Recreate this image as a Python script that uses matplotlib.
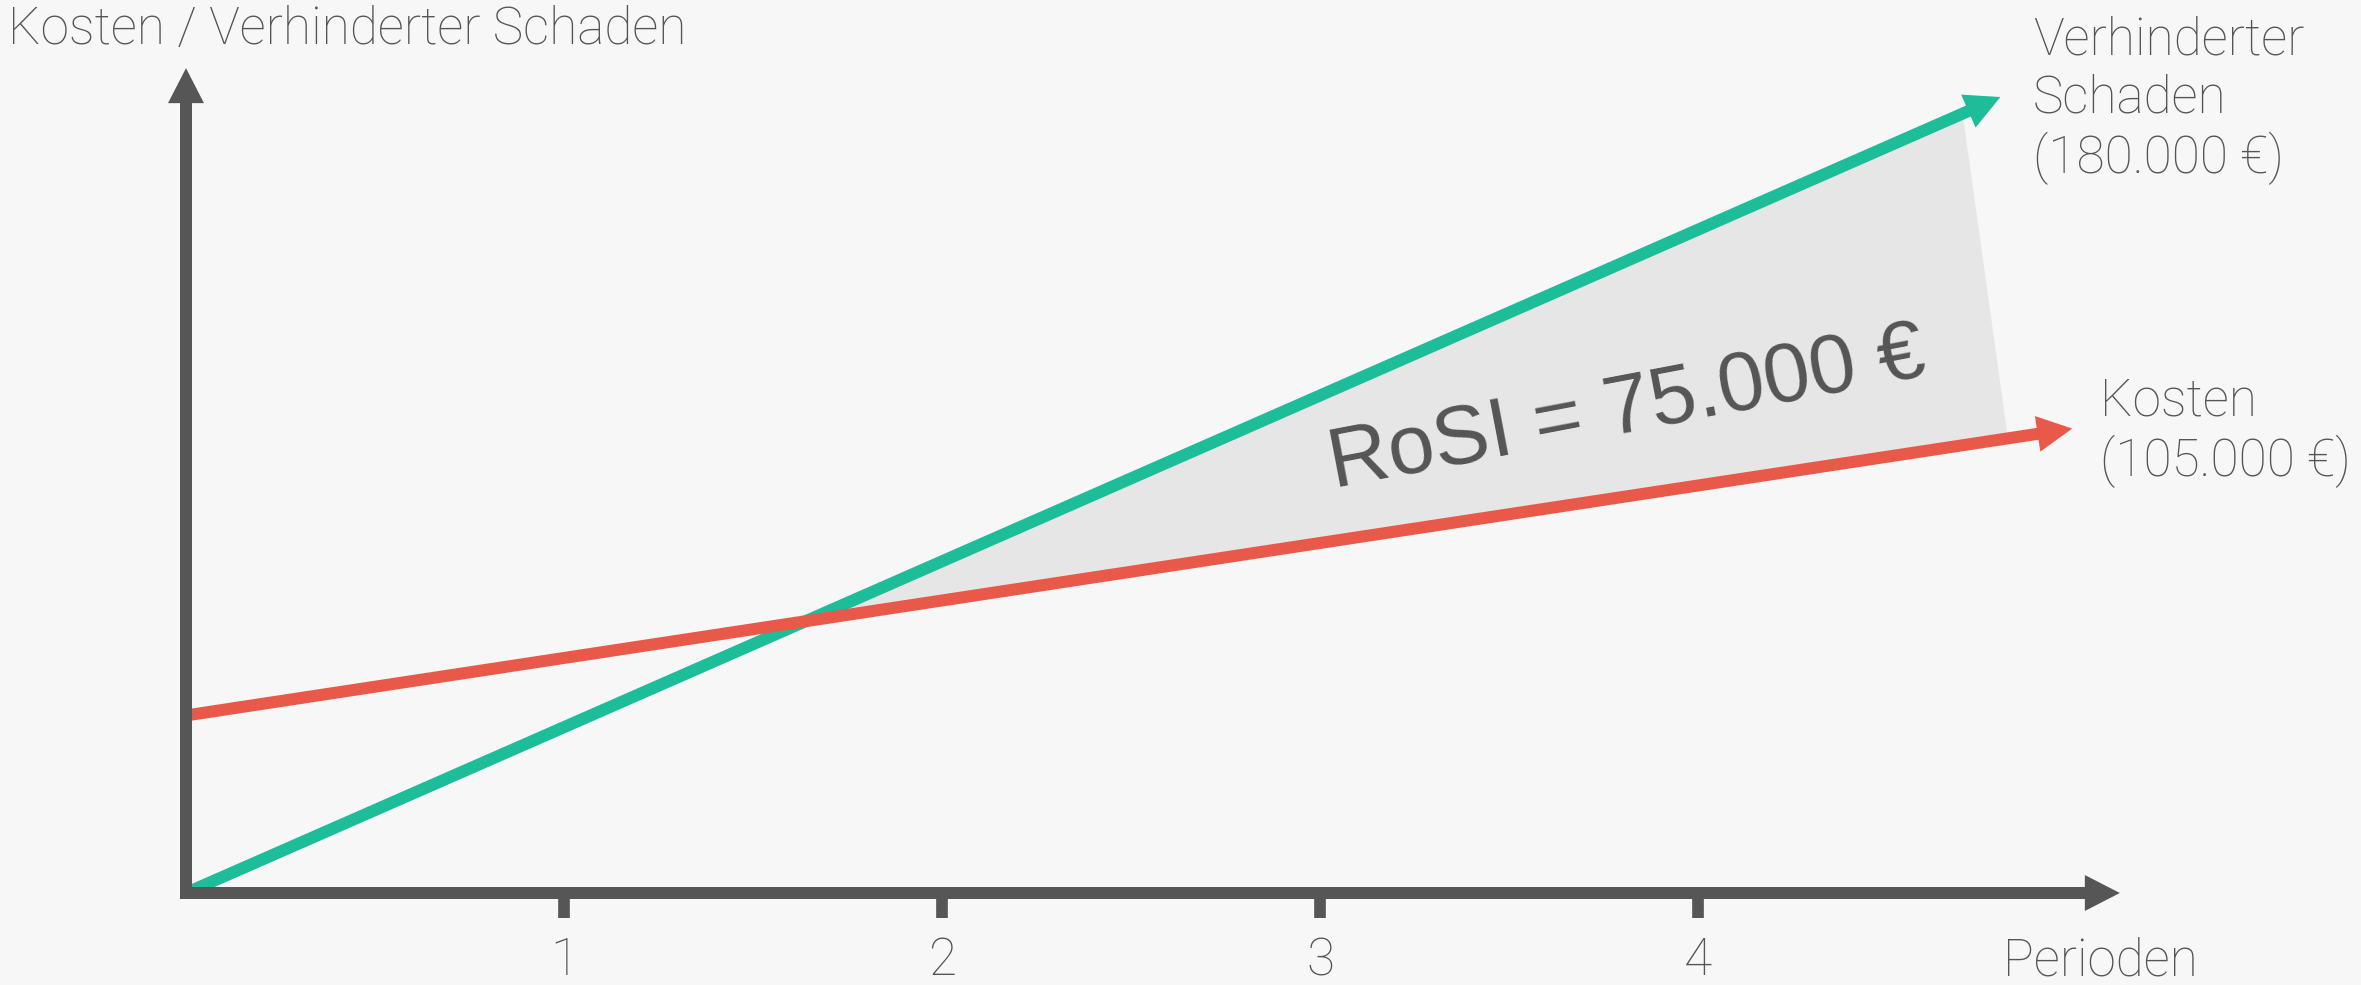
import numpy as np
import matplotlib.pyplot as plt
from matplotlib.patches import FancyArrowPatch, ArrowStyle

# x: Perioden, y: Tsd. Euro
perioden_ticks = [1, 2, 3, 4]
schaden_perioden = [0.0, 4.70]
schaden_werte = [0.0, 180.0]
kosten_perioden = [0.0, 4.82]
kosten_werte = [41.0, 105.0]

# Pfeilspitzen liegen etwas hinter dem Endwert
schaden_pfeil_ende = 4.80
kosten_pfeil_ende = 4.99
achse_x_ende = 5.116
achse_y_ende = 190.5

GRAU = '#565656'
TEXT = '#555555'
GRUEN = '#1dbd9a'
ROT = '#e8594a'
FLAECHE = '#e6e6e6'
HINTERGRUND = '#f7f7f7'

W, H, DPI = 2361, 985, 100
PX_X = 378.0      # Pixel pro Periode
PX_Y = 4.33       # Pixel pro Tsd. Euro
X0, Y0 = 186, 893  # Ursprung in Pixeln (von oben gezaehlt)

LEICHT = dict(family=['Roboto', 'DejaVu Sans'], weight='light', color=TEXT)
GROESSE = 37


def gerade(xs, ys, x):
    m = (ys[1] - ys[0]) / (xs[1] - xs[0])
    return ys[0] + m * (x - xs[0])


def euro(wert_tsd):
    return f"{int(round(wert_tsd * 1000)):,}".replace(',', '.') + ' €'


def pfeil(ax, a, b, farbe, z):
    stil = ArrowStyle.Simple(head_length=25.2, head_width=25.9, tail_width=8.64)
    p = FancyArrowPatch(a, b, arrowstyle=stil, mutation_scale=1, color=farbe,
                        lw=0, shrinkA=0, shrinkB=0, zorder=z)
    ax.add_patch(p)


def px(x, y):
    return x / W, 1 - y / H


fig = plt.figure(figsize=(W / DPI, H / DPI), dpi=DPI, facecolor=HINTERGRUND)
ax = fig.add_axes([0, 0, 1, 1])
ax.set_xlim(-X0 / PX_X, (W - X0) / PX_X)
ax.set_ylim(-(H - Y0) / PX_Y, Y0 / PX_Y)
ax.patch.set_visible(False)
for name, s in ax.spines.items():
    s.set_visible(False)
ax.spines['bottom'].set_position(('data', 0))

# Schnittpunkt der beiden Geraden
m_s = (schaden_werte[1] - schaden_werte[0]) / (schaden_perioden[1] - schaden_perioden[0])
m_k = (kosten_werte[1] - kosten_werte[0]) / (kosten_perioden[1] - kosten_perioden[0])
x_schnitt = (kosten_werte[0] - schaden_werte[0]) / (m_s - m_k)
y_schnitt = gerade(schaden_perioden, schaden_werte, x_schnitt)

ax.fill([x_schnitt, schaden_perioden[1], kosten_perioden[1]],
        [y_schnitt, schaden_werte[1], kosten_werte[1]],
        color=FLAECHE, lw=0, zorder=1)

pfeil(ax, (schaden_perioden[0], schaden_werte[0]),
      (schaden_pfeil_ende, gerade(schaden_perioden, schaden_werte, schaden_pfeil_ende)),
      GRUEN, 2)
pfeil(ax, (kosten_perioden[0], kosten_werte[0]),
      (kosten_pfeil_ende, gerade(kosten_perioden, kosten_werte, kosten_pfeil_ende)),
      ROT, 2.1)

# Achsen
pfeil(ax, (-6 / PX_X, 0), (achse_x_ende, 0), GRAU, 4)
pfeil(ax, (0, -6 / PX_Y), (0, achse_y_ende), GRAU, 4)

ax.set_yticks([])
ax.set_xticks(perioden_ticks)
ax.set_xticklabels([str(p) for p in perioden_ticks], fontsize=GROESSE, **LEICHT)
ax.tick_params(axis='x', direction='out', length=18, width=8.4, color=GRAU, pad=13)

rosi = schaden_werte[1] - kosten_werte[1]
ax.text((1334 - X0) / PX_X, (Y0 - 488) / PX_Y, 'RoSI = ' + euro(rosi),
        family=['Liberation Sans', 'DejaVu Sans'], fontsize=60, color=TEXT,
        rotation=10.8, rotation_mode='anchor', ha='left', va='baseline', zorder=3)

fig.text(*px(8, 44), 'Kosten / Verhinderter Schaden', fontsize=GROESSE,
         ha='left', va='baseline', **LEICHT)
fig.text(*px(2003, 975), 'Perioden', fontsize=GROESSE, ha='left', va='baseline', **LEICHT)
# bei mehrzeiligem Text bezieht sich 'baseline' auf die letzte Zeile
fig.text(*px(2033, 173), 'Verhinderter\nSchaden\n(' + euro(schaden_werte[1]) + ')',
         fontsize=GROESSE, ha='left', va='baseline', linespacing=1.2, **LEICHT)
fig.text(*px(2100, 476), 'Kosten\n(' + euro(kosten_werte[1]) + ')',
         fontsize=GROESSE, ha='left', va='baseline', linespacing=1.2, **LEICHT)

fig.savefig('out.png', dpi=DPI, facecolor=HINTERGRUND)
